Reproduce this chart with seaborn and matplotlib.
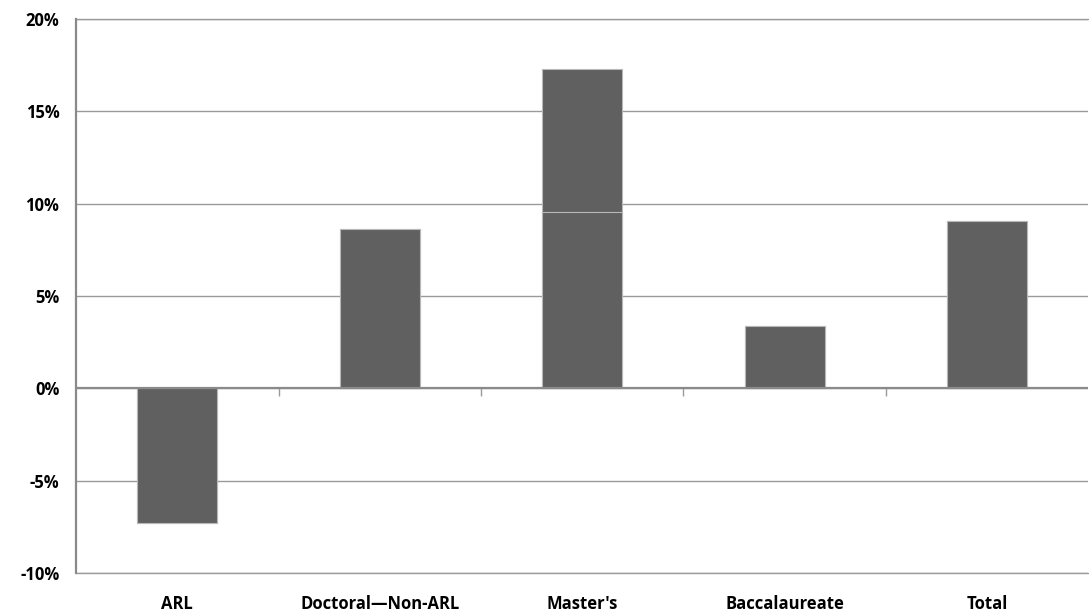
import matplotlib
matplotlib.use("Agg")
import matplotlib.pyplot as plt
import seaborn as sns
import pandas as pd
from matplotlib import font_manager
from matplotlib.ticker import FuncFormatter, MultipleLocator, FixedLocator

categories = ["ARL", "Doctoral\u2014Non-ARL", "Master's", "Baccalaureate", "Total"]
total_values = [-7.31, 8.61, 17.28, 3.36, 9.05]
lower_values = [-7.31, 8.61, 9.53, 3.36, 9.05]

df = pd.DataFrame({"cat": categories, "total": total_values, "lower": lower_values})

sns.set_theme(style="white")
names = {f.name for f in font_manager.fontManager.ttflist}
fam = ['Liberation Sans Narrow'] if 'Liberation Sans Narrow' in names else ['Open Sans']
plt.rcParams['font.family'] = fam + ['DejaVu Sans']
fs = 13.5 if fam[0] == 'Liberation Sans Narrow' else 12

fig = plt.figure(figsize=(10.89, 6.15), dpi=100)
ax = fig.add_axes([0.0698, 0.0683, 0.9297, 0.9007])

bar_color = "#606060"
edge = "#b8b8b8"
sns.barplot(data=df, x="cat", y="total", color=bar_color, saturation=1, width=0.395,
            edgecolor=edge, linewidth=0.8, ax=ax, zorder=3)
sns.barplot(data=df, x="cat", y="lower", color=bar_color, saturation=1, width=0.395,
            edgecolor=edge, linewidth=0.8, ax=ax, zorder=3)

ax.set_ylim(-10, 20)
ax.set_xlim(-0.5, 4.5)
ax.yaxis.set_major_locator(MultipleLocator(5))
ax.yaxis.set_major_formatter(FuncFormatter(lambda v, p: f"{v:.0f}%"))
ax.grid(axis="y", color="#9a9a9a", linewidth=1.0, zorder=0)
ax.set_axisbelow(True)
ax.axhline(-10, color="#9a9a9a", linewidth=1.0, clip_on=False, zorder=0)
ax.axhline(20, color="#9a9a9a", linewidth=1.0, clip_on=False, zorder=0)
ax.axhline(0, color="#8a8a8a", linewidth=1.6, zorder=4)

for s in ["top", "right", "bottom"]:
    ax.spines[s].set_visible(False)
ax.spines["left"].set_color("#8a8a8a")
ax.spines["left"].set_linewidth(1.6)

ax.tick_params(axis="y", direction="out", length=6, width=1, color="#9a9a9a",
               labelsize=fs, pad=6)
ax.tick_params(axis="x", length=0, labelsize=fs, pad=16)
for lab in ax.get_yticklabels() + ax.get_xticklabels():
    lab.set_fontweight("bold")
    lab.set_color("#000000")
ax.set_xlabel("")
ax.set_ylabel("")

sec = ax.secondary_xaxis(1/3)
sec.xaxis.set_major_locator(FixedLocator([0.5, 1.5, 2.5, 3.5]))
sec.tick_params(axis="x", direction="out", length=6, width=1, color="#9a9a9a", labelbottom=False, labeltop=False)
sec.set_xticklabels([])
sec.spines["bottom"].set_visible(False)
sec.spines["top"].set_visible(False)
sec.xaxis.set_ticks_position("bottom")

fig.savefig("out.png", dpi=100)
